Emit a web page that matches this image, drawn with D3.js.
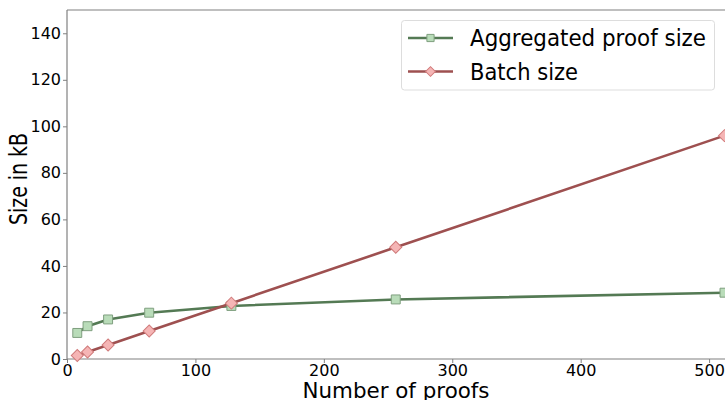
<!DOCTYPE html>
<html><head><meta charset="utf-8">
<script src="https://cdn.jsdelivr.net/npm/d3@7"></script>
<style>body{margin:0;background:#fff}svg{display:block}text{font-family:"DejaVu Sans",sans-serif}</style>
</head><body><svg id="c" width="725" height="400"></svg>
<script>
const proofs = [8, 16, 32, 64, 128, 256, 512];
const aggregatedSize = [11.2, 14.1, 17.0, 19.9, 22.8, 25.6, 28.5];
const batchSize = [1.5, 3, 6, 12, 24, 48, 96];
const xTicks = [0, 100, 200, 300, 400, 500];
const yTicks = [0, 20, 40, 60, 80, 100, 120, 140];
const seriesNames = ["Aggregated proof size", "Batch size"];

const svg = d3.select("#c");
const L = 67, R = 724.5, T = 10, B = 359;
const x = d3.scaleLinear().domain([0, 512]).range([L, R]);
const y = d3.scaleLinear().domain([0, 150]).range([B, T]);

// spines
svg.append("line").attr("x1", L).attr("x2", 725).attr("y1", T).attr("y2", T).attr("stroke", "#808080").attr("stroke-width", 1.2);
svg.append("line").attr("x1", L).attr("x2", 725).attr("y1", B).attr("y2", B).attr("stroke", "#808080").attr("stroke-width", 1.2);
svg.append("line").attr("x1", L).attr("x2", L).attr("y1", T).attr("y2", B).attr("stroke", "#808080").attr("stroke-width", 1.2);

const xa = svg.append("g").attr("transform", `translate(0,${B})`)
  .call(d3.axisBottom(x).tickValues(xTicks).tickSize(4).tickPadding(2).tickFormat(d3.format("d")));
const ya = svg.append("g").attr("transform", `translate(${L},0)`)
  .call(d3.axisLeft(y).tickValues(yTicks).tickSize(4).tickPadding(2).tickFormat(d3.format("d")));
[xa, ya].forEach(g => {
  g.select(".domain").remove();
  g.selectAll(".tick line").attr("stroke", "#808080");
  g.selectAll("text").attr("font-size", 16).attr("fill", "#000").style("font-family", "DejaVu Sans");
});

svg.append("text").attr("x", 396).attr("y", 397.5).attr("text-anchor", "middle").attr("font-size", 21)
  .attr("textLength", 187).attr("lengthAdjust", "spacingAndGlyphs").text("Number of proofs");
svg.append("text").attr("transform", "translate(27,179) rotate(-90)").attr("text-anchor", "middle").attr("font-size", 24)
  .attr("textLength", 92).attr("lengthAdjust", "spacingAndGlyphs").text("Size in kB");

const squareSym = d3.symbol().type(d3.symbolSquare).size(80);
const diamondSym = d3.symbol().type(d3.symbolSquare).size(72);
const styles = [
  {line: "#547a54", fill: "#b9dcb9", edge: "#7f9f7f", sym: squareSym, rot: 0},
  {line: "#9e5050", fill: "#f5b5b5", edge: "#d07a7a", sym: diamondSym, rot: 45}
];
const series = [aggregatedSize, batchSize];
const line = d3.line().x(d => x(d[0])).y(d => y(d[1]));
series.forEach((vals, i) => {
  const pts = proofs.map((p, j) => [p, vals[j]]);
  svg.append("path").datum(pts).attr("d", line).attr("fill", "none").attr("stroke", styles[i].line).attr("stroke-width", 2.6);
});
series.forEach((vals, i) => {
  const pts = proofs.map((p, j) => [p, vals[j]]);
  svg.selectAll(null).data(pts).enter().append("path")
    .attr("d", styles[i].sym)
    .attr("transform", d => `translate(${x(d[0])},${y(d[1])}) rotate(${styles[i].rot})`)
    .attr("fill", styles[i].fill).attr("stroke", styles[i].edge).attr("stroke-width", 1);
});

// legend
const lg = svg.append("g");
lg.append("rect").attr("x", 401.5).attr("y", 20.5).attr("width", 313).attr("height", 69.5).attr("rx", 3)
  .attr("fill", "#fff").attr("stroke", "#dddddd").attr("stroke-width", 1);
const textLens = [236, 108];
seriesNames.forEach((n, i) => {
  const cy = 38 + i * 33.5;
  lg.append("line").attr("x1", 408).attr("x2", 453).attr("y1", cy).attr("y2", cy).attr("stroke", styles[i].line).attr("stroke-width", 2.6);
  lg.append("path").attr("d", d3.symbol().type(d3.symbolSquare).size(i === 0 ? 52 : 48))
    .attr("transform", `translate(430.5,${cy}) rotate(${styles[i].rot})`)
    .attr("fill", styles[i].fill).attr("stroke", styles[i].edge).attr("stroke-width", 1);
  lg.append("text").attr("x", 470).attr("y", cy + 8).attr("font-size", 23)
    .attr("textLength", textLens[i]).attr("lengthAdjust", "spacingAndGlyphs").text(n);
});
</script></body></html>
